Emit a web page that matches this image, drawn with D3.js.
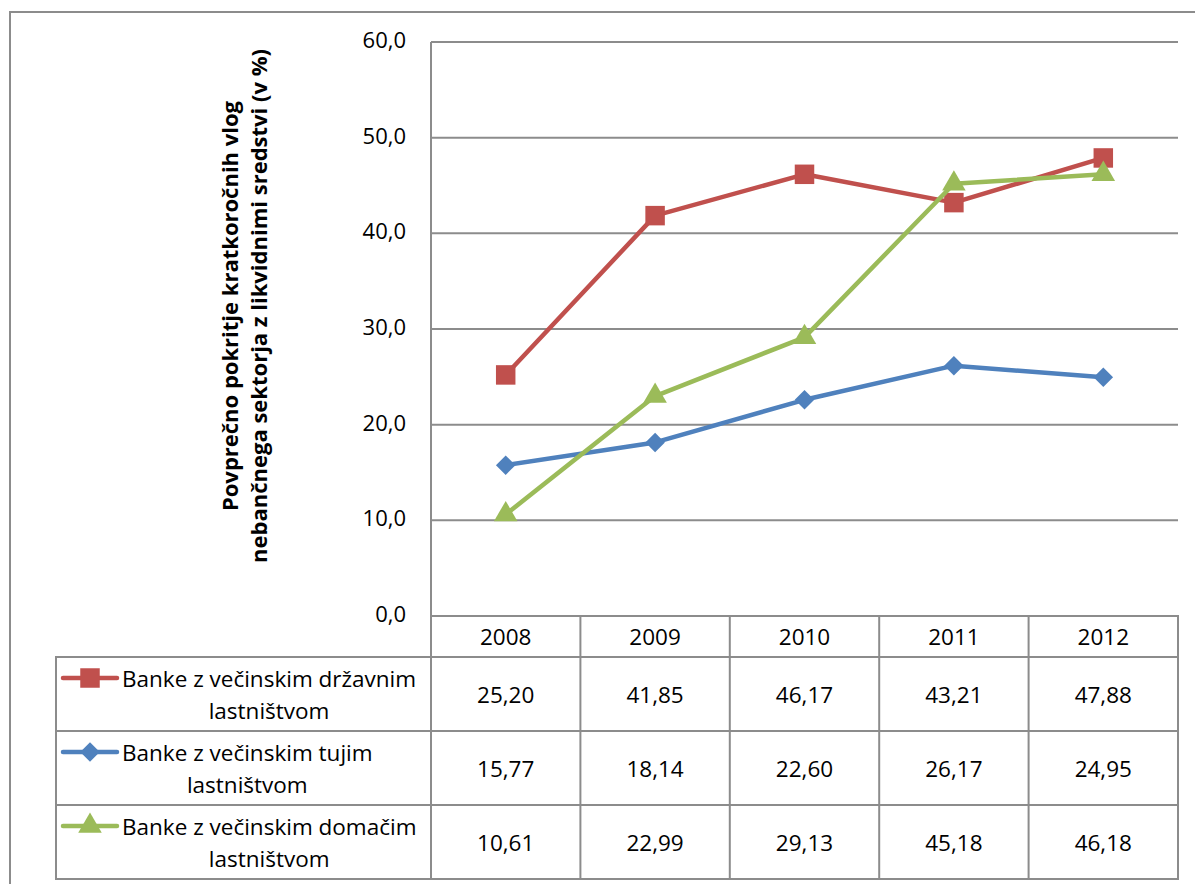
<!DOCTYPE html>
<html>
<head>
<meta charset="utf-8">
<script src="https://cdn.jsdelivr.net/npm/d3@7"></script>
<style>
  html, body { margin: 0; padding: 0; background: #fff; }
  svg { display: block; }
  text { font-family: "Open Sans", "Noto Sans", sans-serif; fill: #000; }
</style>
</head>
<body>
<svg id="chart" width="1195" height="884"></svg>
<script>
// Years shown along the category axis / table header
const years = ["2008", "2009", "2010", "2011", "2012"];

// Series values (in %)
const drzavno = [25.20, 41.85, 46.17, 43.21, 47.88];
const tuje    = [15.77, 18.14, 22.60, 26.17, 24.95];
const domace  = [10.61, 22.99, 29.13, 45.18, 46.18];

const seriesNames = [
  ["Banke z večinskim državnim", "lastništvom"],
  ["Banke z večinskim tujim", "lastništvom"],
  ["Banke z večinskim domačim", "lastništvom"]
];

const yTicks = [0, 10, 20, 30, 40, 50, 60];
const yTitle = ["Povprečno pokritje kratkoročnih vlog",
                "nebančnega sektorja z likvidnimi sredstvi (v %)"];

// A diamond drawn as a square turned by 45 degrees
const symbolDiamondSquare = {
  draw(ctx, size) {
    const r = Math.sqrt(size / 2);
    ctx.moveTo(0, -r); ctx.lineTo(r, 0); ctx.lineTo(0, r); ctx.lineTo(-r, 0); ctx.closePath();
  }
};

const series = [
  { name: seriesNames[0], values: drzavno, color: "#C0504D", symbol: d3.symbolSquare,     size: 380 },
  { name: seriesNames[1], values: tuje,    color: "#4F81BD", symbol: symbolDiamondSquare, size: 190 },
  { name: seriesNames[2], values: domace,  color: "#9BBB59", symbol: d3.symbolTriangle,   size: 240 }
];

const svg = d3.select("#chart");
const comma = f => v => d3.format(f)(v).replace(".", ",");

// Layout
const plot = { left: 431, right: 1178, top: 42, bottom: 616 };
const table = { legendLeft: 56, headerBottom: 657, rowH: 74 };
const gridColor = "#8c8c8c";
const fs = 22.5;

// Outer chart frame
svg.append("rect")
  .attr("x", 10).attr("y", 12).attr("width", 1200).attr("height", 900)
  .attr("fill", "none").attr("stroke", gridColor).attr("stroke-width", 2);

const x = d3.scaleBand().domain(years).range([plot.left, plot.right]).padding(0);
const y = d3.scaleLinear().domain([0, 60]).range([plot.bottom, plot.top]);
const cx = d => x(d) + x.bandwidth() / 2;

// Horizontal gridlines
svg.append("g").selectAll("line").data(yTicks).join("line")
  .attr("x1", plot.left).attr("x2", plot.right)
  .attr("y1", d => y(d)).attr("y2", d => y(d))
  .attr("stroke", gridColor).attr("stroke-width", 2);

// Vertical axis line
svg.append("line")
  .attr("x1", plot.left).attr("x2", plot.left)
  .attr("y1", plot.top).attr("y2", plot.bottom)
  .attr("stroke", gridColor).attr("stroke-width", 2);

// Y tick labels
svg.append("g").selectAll("text").data(yTicks).join("text")
  .attr("x", 406).attr("y", d => y(d) - 3)
  .attr("text-anchor", "end").attr("dominant-baseline", "central")
  .attr("font-size", 22)
  .text(comma(".1f"));

// Y axis title (two rotated lines)
const titleG = svg.append("g").attr("transform", "translate(0,306)");
yTitle.forEach((t, i) => {
  titleG.append("text")
    .attr("transform", `translate(${238 + i * 29},0) rotate(-90)`)
    .attr("text-anchor", "middle")
    .attr("font-size", 22).attr("font-weight", "bold")
    .text(t);
});

// Lines and markers
const line = d3.line().x((d, i) => cx(years[i])).y(d => y(d));
series.forEach(s => {
  svg.append("path")
    .datum(s.values)
    .attr("d", line)
    .attr("fill", "none").attr("stroke", s.color)
    .attr("stroke-width", 4.5).attr("stroke-linejoin", "round");
  svg.append("g").selectAll("path").data(s.values).join("path")
    .attr("transform", (d, i) => `translate(${cx(years[i])},${y(d)})`)
    .attr("d", d3.symbol().type(s.symbol).size(s.size))
    .attr("fill", s.color);
});

// Data table
const tg = svg.append("g");
const rowTop = i => table.headerBottom + i * table.rowH;
const tableBottom = rowTop(series.length);

// Header row cells (years)
tg.append("rect")
  .attr("x", plot.left).attr("y", plot.bottom)
  .attr("width", plot.right - plot.left).attr("height", table.headerBottom - plot.bottom)
  .attr("fill", "none").attr("stroke", gridColor).attr("stroke-width", 2);
tg.selectAll("text.year").data(years).join("text")
  .attr("class", "year")
  .attr("x", d => cx(d)).attr("y", (plot.bottom + table.headerBottom) / 2)
  .attr("text-anchor", "middle").attr("dominant-baseline", "central")
  .attr("font-size", fs)
  .text(d => d);

// Body outline and row lines
tg.append("rect")
  .attr("x", table.legendLeft).attr("y", table.headerBottom)
  .attr("width", plot.right - table.legendLeft).attr("height", tableBottom - table.headerBottom)
  .attr("fill", "none").attr("stroke", gridColor).attr("stroke-width", 2);
tg.selectAll("line.row").data(d3.range(1, series.length)).join("line")
  .attr("class", "row")
  .attr("x1", table.legendLeft).attr("x2", plot.right)
  .attr("y1", d => rowTop(d)).attr("y2", d => rowTop(d))
  .attr("stroke", gridColor).attr("stroke-width", 2);

// Column dividers
const colEdges = years.map(d => x(d));
tg.selectAll("line.col").data(colEdges).join("line")
  .attr("class", "col")
  .attr("x1", d => d).attr("x2", d => d)
  .attr("y1", plot.bottom).attr("y2", tableBottom)
  .attr("stroke", gridColor).attr("stroke-width", 2);

// Row contents: legend key, series name, values
series.forEach((s, r) => {
  const mid = rowTop(r) + table.rowH / 2;
  const l1 = mid - 16, l2 = mid + 16;
  // legend key
  tg.append("line")
    .attr("x1", 63).attr("x2", 117).attr("y1", l1).attr("y2", l1)
    .attr("stroke", s.color).attr("stroke-width", 4.5).attr("stroke-linecap", "round");
  tg.append("path")
    .attr("transform", `translate(90,${l1})`)
    .attr("d", d3.symbol().type(s.symbol).size(s.size))
    .attr("fill", s.color);
  // name on two lines, second line centred under the first
  const first = tg.append("text")
    .attr("x", 122).attr("y", l1)
    .attr("dominant-baseline", "central").attr("font-size", fs)
    .text(s.name[0]);
  const w = first.node().getComputedTextLength();
  tg.append("text")
    .attr("x", 122 + w / 2).attr("y", l2)
    .attr("text-anchor", "middle").attr("dominant-baseline", "central")
    .attr("font-size", fs)
    .text(s.name[1]);
  // values
  tg.selectAll(null).data(s.values).join("text")
    .attr("x", (d, i) => cx(years[i])).attr("y", mid)
    .attr("text-anchor", "middle").attr("dominant-baseline", "central")
    .attr("font-size", fs)
    .text(comma(".2f"));
});
</script>
</body>
</html>
